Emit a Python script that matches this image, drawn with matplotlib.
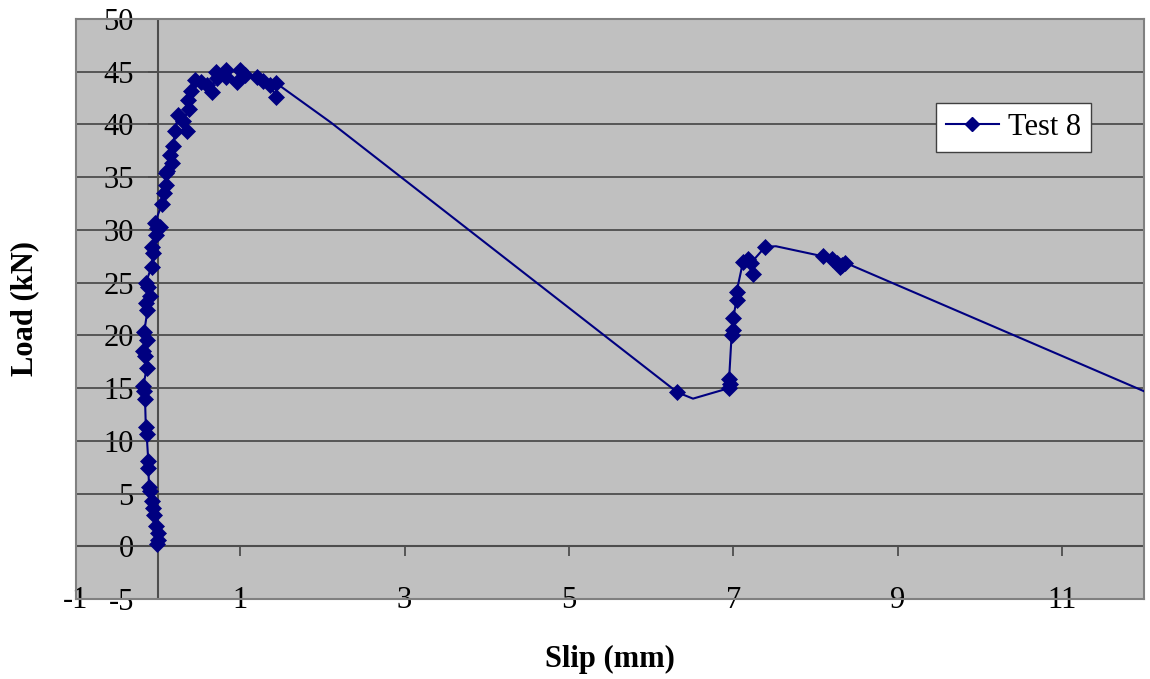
import matplotlib
matplotlib.use('Agg')
import matplotlib.pyplot as plt
from matplotlib.lines import Line2D

# ---- data ----
slip = [-0.02, 0.00, 0.00, -0.03, -0.05, -0.06, -0.07, -0.10, -0.11, -0.12,
        -0.12, -0.14, -0.15, -0.16, -0.17, -0.18, -0.14, -0.16, -0.18, -0.14,
        -0.17, -0.13, -0.15, -0.10, -0.12, -0.15, -0.08, -0.06, -0.07, -0.03,
        -0.01, 0.02, -0.04, 0.05, 0.07, 0.10, 0.09, 0.11, 0.17, 0.14,
        0.18, 0.21, 0.24, 0.35, 0.30, 0.38, 0.36, 0.40, 0.45, 0.52,
        0.60, 0.65, 0.71, 0.72, 0.83, 0.82, 0.96, 1.00, 1.06, 1.20,
        1.28, 1.36, 1.44, 1.44,
        2.10,
        6.32, 6.51, 6.95, 6.96, 6.95, 6.98, 7.00, 7.00, 7.04, 7.04,
        7.12, 7.18, 7.24, 7.22, 7.39, 7.52, 8.09, 8.20, 8.26, 8.30,
        8.33, 8.36, 12.30]
load = [0.2, 0.6, 1.3, 1.9, 3.0, 3.6, 4.3, 5.2, 5.6, 7.4,
        8.1, 10.6, 11.3, 14.0, 14.7, 15.2, 16.9, 18.0, 18.5, 19.6,
        20.3, 22.4, 23.1, 23.7, 24.6, 25.0, 26.5, 27.8, 28.4, 29.5,
        30.2, 30.3, 30.7, 32.5, 33.5, 34.3, 35.4, 35.6, 36.3, 37.1,
        38.0, 39.4, 40.9, 39.4, 40.3, 41.5, 42.3, 43.2, 44.2, 44.0,
        43.7, 43.1, 45.0, 44.4, 45.2, 44.5, 44.0, 45.2, 44.7, 44.5,
        44.1, 43.7, 42.6, 43.9,
        40.2,
        14.6, 14.0, 15.0, 15.4, 15.9, 20.0, 20.5, 21.6, 23.4, 24.1,
        27.0, 27.2, 25.8, 26.9, 28.4, 28.45, 27.5, 27.2, 26.9, 26.5,
        26.7, 26.9, 13.7]
# 1 = data point drawn with a marker, 0 = line vertex only
marked = [1] * 64 + [0] + [1, 0] + [1] * 13 + [0] + [1] * 6 + [0]

series_name = 'Test 8'
x_ticks = [-1, 1, 3, 5, 7, 9, 11]
y_ticks = list(range(-5, 55, 5))
x_label = 'Slip (mm)'
y_label = 'Load (kN)'
xlim = (-1, 12)
ylim = (-5, 50)

# ---- styling ----
plt.rcParams['font.family'] = ['Liberation Serif', 'DejaVu Serif']
plt.rcParams['axes.unicode_minus'] = False
navy = '#000080'
grid_c = '#4d4d4d'
fs = 22

fig = plt.figure(figsize=(11.5, 6.79), dpi=100)
ax = fig.add_axes([76 / 1150, 1 - 599 / 679, 1068 / 1150, 580 / 679])
ax.set_xlim(*xlim)
ax.set_ylim(*ylim)
ax.set_facecolor('#c0c0c0')
for s in ax.spines.values():
    s.set_color('#808080')
    s.set_linewidth(1.5)

# horizontal gridlines
ax.set_yticks(y_ticks)
ax.tick_params(axis='y', length=0, labelleft=False)
ax.yaxis.grid(True, color=grid_c, lw=1.3)
ax.set_axisbelow(True)

# x tick labels along the bottom edge
ax.set_xticks(x_ticks)
ax.set_xticklabels([str(t) for t in x_ticks])
ax.tick_params(axis='x', length=0, pad=-9.6, labelsize=fs)

# axis lines through the origin
ax.axhline(0, color=grid_c, lw=1.5, zorder=1.5)
ax.axvline(0, color=grid_c, lw=1.5, zorder=1.5)

x0_frac = (0 - ylim[0]) / (ylim[1] - ylim[0])
y0_frac = (0 - xlim[0]) / (xlim[1] - xlim[0])

sx = ax.secondary_xaxis(x0_frac)
sx.set_xticks(x_ticks)
sx.tick_params(direction='out', length=7, width=1.3, color=grid_c,
               labelbottom=False, labeltop=False)
for s in sx.spines.values():
    s.set_visible(False)

sy = ax.secondary_yaxis(y0_frac)
sy.set_yticks(y_ticks)
sy.set_yticklabels([str(t) for t in y_ticks])
sy.tick_params(direction='out', length=7, width=1.3, color=grid_c,
               labelsize=fs, pad=10.5)
for s in sy.spines.values():
    s.set_visible(False)

# data
ax.plot(slip, load, color=navy, lw=1.5, zorder=3)
mx = [x for x, m in zip(slip, marked) if m]
my = [y for y, m in zip(load, marked) if m]
ax.plot(mx, my, ls='none', marker='D', ms=8, color=navy, mec=navy, mew=0.5,
        zorder=4)

# labels
ax.set_xlabel(x_label, fontsize=fs, fontweight='bold')
ax.xaxis.set_label_coords(0.5, -0.079)
ax.set_ylabel(y_label, fontsize=fs, fontweight='bold')
ax.yaxis.set_label_coords(-0.034, 0.5)

# legend
handle = Line2D([], [], color=navy, lw=1.5, marker='D', ms=7, mec=navy)
leg = ax.legend([handle], [series_name], loc='upper left',
                bbox_to_anchor=(0.805, 0.855), fancybox=False,
                edgecolor='#404040', framealpha=1, fontsize=fs,
                handlelength=1.75, handletextpad=0.3, borderpad=0.32,
                borderaxespad=0)
leg.get_frame().set_linewidth(1.0)

fig.savefig('out.png', dpi=100)
